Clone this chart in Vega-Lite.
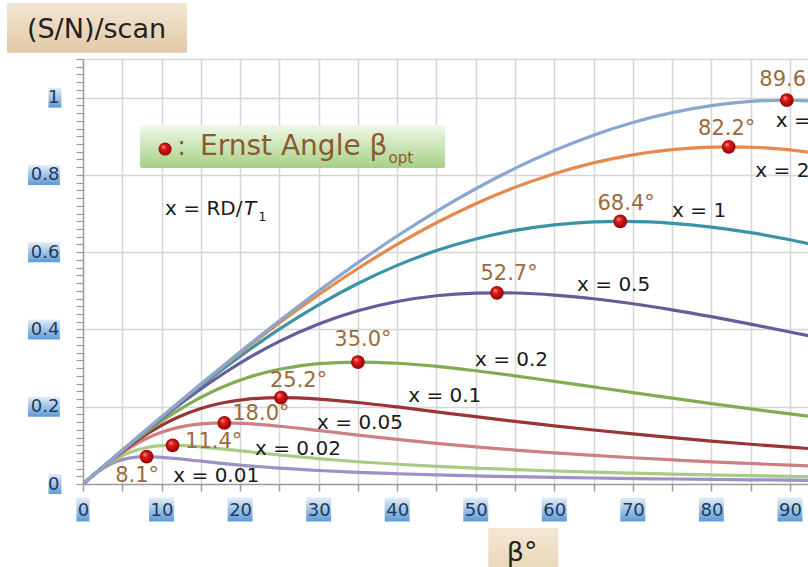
{
"$schema": "https://vega.github.io/schema/vega-lite/v6.json",
"width": 725, "height": 425,
"autosize": {"type": "none"},
"padding": {"left": 83, "top": 59, "right": 0, "bottom": 83},
"background": "white",
"config": {"view": {"stroke": null}},
"data": {"values": [{}]},
"datasets": {
"curves": [
{"x":"0.01","b":0,"s":0},{"x":"0.01","b":2,"s":0.0329},{"x":"0.01","b":4,"s":0.0562},{"x":"0.01","b":6,"s":0.0677},{"x":"0.01","b":8.1,"s":0.0707},{"x":"0.01","b":10,"s":0.0691},{"x":"0.01","b":12,"s":0.0655},{"x":"0.01","b":15,"s":0.0590},{"x":"0.01","b":18,"s":0.0527},{"x":"0.01","b":21,"s":0.0471},{"x":"0.01","b":25,"s":0.0409},{"x":"0.01","b":30,"s":0.0349},{"x":"0.01","b":35,"s":0.0302},{"x":"0.01","b":40,"s":0.0265},{"x":"0.01","b":45,"s":0.0235},{"x":"0.01","b":50,"s":0.0210},{"x":"0.01","b":55,"s":0.0189},{"x":"0.01","b":60,"s":0.0171},{"x":"0.01","b":65,"s":0.0155},{"x":"0.01","b":70,"s":0.0141},{"x":"0.01","b":75,"s":0.0129},{"x":"0.01","b":80,"s":0.0118},{"x":"0.01","b":85,"s":0.0109},{"x":"0.01","b":90,"s":0.0100},{"x":"0.01","b":95,"s":0.0091},
{"x":"0.02","b":0,"s":0},{"x":"0.02","b":2,"s":0.0339},{"x":"0.02","b":4,"s":0.0623},{"x":"0.02","b":6,"s":0.0822},{"x":"0.02","b":8,"s":0.0939},{"x":"0.02","b":10,"s":0.0991},{"x":"0.02","b":11.4,"s":0.1000},{"x":"0.02","b":13,"s":0.0995},{"x":"0.02","b":15,"s":0.0963},{"x":"0.02","b":18,"s":0.0903},{"x":"0.02","b":21,"s":0.0836},{"x":"0.02","b":25,"s":0.0750},{"x":"0.02","b":30,"s":0.0655},{"x":"0.02","b":35,"s":0.0576},{"x":"0.02","b":40,"s":0.0511},{"x":"0.02","b":45,"s":0.0456},{"x":"0.02","b":50,"s":0.0410},{"x":"0.02","b":55,"s":0.0371},{"x":"0.02","b":60,"s":0.0336},{"x":"0.02","b":65,"s":0.0306},{"x":"0.02","b":70,"s":0.0280},{"x":"0.02","b":75,"s":0.0256},{"x":"0.02","b":80,"s":0.0235},{"x":"0.02","b":85,"s":0.0216},{"x":"0.02","b":90,"s":0.0198},{"x":"0.02","b":95,"s":0.0182},
{"x":"0.05","b":0,"s":0},{"x":"0.05","b":2,"s":0.0345},{"x":"0.05","b":4,"s":0.0666},{"x":"0.05","b":6,"s":0.0944},{"x":"0.05","b":8,"s":0.1170},{"x":"0.05","b":10,"s":0.1340},{"x":"0.05","b":12,"s":0.1458},{"x":"0.05","b":15,"s":0.1555},{"x":"0.05","b":18,"s":0.1581},{"x":"0.05","b":21,"s":0.1561},{"x":"0.05","b":25,"s":0.1495},{"x":"0.05","b":30,"s":0.1384},{"x":"0.05","b":35,"s":0.1267},{"x":"0.05","b":40,"s":0.1156},{"x":"0.05","b":45,"s":0.1053},{"x":"0.05","b":50,"s":0.0962},{"x":"0.05","b":55,"s":0.0879},{"x":"0.05","b":60,"s":0.0806},{"x":"0.05","b":65,"s":0.0739},{"x":"0.05","b":70,"s":0.0679},{"x":"0.05","b":75,"s":0.0625},{"x":"0.05","b":80,"s":0.0575},{"x":"0.05","b":85,"s":0.0530},{"x":"0.05","b":90,"s":0.0488},{"x":"0.05","b":95,"s":0.0449},
{"x":"0.1","b":0,"s":0},{"x":"0.1","b":2,"s":0.0347},{"x":"0.1","b":4,"s":0.0682},{"x":"0.1","b":6,"s":0.0994},{"x":"0.1","b":8,"s":0.1274},{"x":"0.1","b":10,"s":0.1517},{"x":"0.1","b":12,"s":0.1722},{"x":"0.1","b":15,"s":0.1955},{"x":"0.1","b":18,"s":0.2109},{"x":"0.1","b":21,"s":0.2197},{"x":"0.1","b":25.2,"s":0.2236},{"x":"0.1","b":30,"s":0.2199},{"x":"0.1","b":35,"s":0.2109},{"x":"0.1","b":40,"s":0.1994},{"x":"0.1","b":45,"s":0.1868},{"x":"0.1","b":50,"s":0.1742},{"x":"0.1","b":55,"s":0.1621},{"x":"0.1","b":60,"s":0.1505},{"x":"0.1","b":65,"s":0.1397},{"x":"0.1","b":70,"s":0.1295},{"x":"0.1","b":75,"s":0.1200},{"x":"0.1","b":80,"s":0.1112},{"x":"0.1","b":85,"s":0.1029},{"x":"0.1","b":90,"s":0.0952},{"x":"0.1","b":95,"s":0.0879},
{"x":"0.2","b":0,"s":0},{"x":"0.2","b":2,"s":0.0348},{"x":"0.2","b":4,"s":0.0690},{"x":"0.2","b":6,"s":0.1020},{"x":"0.2","b":8,"s":0.1333},{"x":"0.2","b":10,"s":0.1625},{"x":"0.2","b":12,"s":0.1892},{"x":"0.2","b":15,"s":0.2243},{"x":"0.2","b":18,"s":0.2531},{"x":"0.2","b":21,"s":0.2757},{"x":"0.2","b":25,"s":0.2970},{"x":"0.2","b":30,"s":0.3115},{"x":"0.2","b":35,"s":0.3157},{"x":"0.2","b":40,"s":0.3125},{"x":"0.2","b":45,"s":0.3044},{"x":"0.2","b":50,"s":0.2931},{"x":"0.2","b":55,"s":0.2800},{"x":"0.2","b":60,"s":0.2658},{"x":"0.2","b":65,"s":0.2512},{"x":"0.2","b":70,"s":0.2366},{"x":"0.2","b":75,"s":0.2222},{"x":"0.2","b":80,"s":0.2081},{"x":"0.2","b":85,"s":0.1945},{"x":"0.2","b":90,"s":0.1813},{"x":"0.2","b":95,"s":0.1686},
{"x":"0.5","b":0,"s":0},{"x":"0.5","b":2,"s":0.0349},{"x":"0.5","b":4,"s":0.0695},{"x":"0.5","b":6,"s":0.1037},{"x":"0.5","b":8,"s":0.1371},{"x":"0.5","b":10,"s":0.1697},{"x":"0.5","b":12,"s":0.2011},{"x":"0.5","b":15,"s":0.2459},{"x":"0.5","b":18,"s":0.2873},{"x":"0.5","b":21,"s":0.3251},{"x":"0.5","b":25,"s":0.3693},{"x":"0.5","b":30,"s":0.4144},{"x":"0.5","b":35,"s":0.4485},{"x":"0.5","b":40,"s":0.4724},{"x":"0.5","b":45,"s":0.4872},{"x":"0.5","b":50,"s":0.4940},{"x":"0.5","b":52.7,"s":0.4949},{"x":"0.5","b":55,"s":0.4943},{"x":"0.5","b":60,"s":0.4891},{"x":"0.5","b":65,"s":0.4795},{"x":"0.5","b":70,"s":0.4665},{"x":"0.5","b":75,"s":0.4508},{"x":"0.5","b":80,"s":0.4331},{"x":"0.5","b":85,"s":0.4139},{"x":"0.5","b":90,"s":0.3935},{"x":"0.5","b":95,"s":0.3723},
{"x":"1","b":0,"s":0},{"x":"1","b":2,"s":0.0349},{"x":"1","b":4,"s":0.0697},{"x":"1","b":6,"s":0.1042},{"x":"1","b":8,"s":0.1384},{"x":"1","b":10,"s":0.1721},{"x":"1","b":12,"s":0.2053},{"x":"1","b":15,"s":0.2538},{"x":"1","b":18,"s":0.3005},{"x":"1","b":21,"s":0.3450},{"x":"1","b":25,"s":0.4008},{"x":"1","b":30,"s":0.4638},{"x":"1","b":35,"s":0.5190},{"x":"1","b":40,"s":0.5658},{"x":"1","b":45,"s":0.6041},{"x":"1","b":50,"s":0.6342},{"x":"1","b":55,"s":0.6563},{"x":"1","b":60,"s":0.6708},{"x":"1","b":65,"s":0.6784},{"x":"1","b":68.4,"s":0.6798},{"x":"1","b":72,"s":0.6782},{"x":"1","b":75,"s":0.6748},{"x":"1","b":80,"s":0.6650},{"x":"1","b":85,"s":0.6506},{"x":"1","b":90,"s":0.6321},{"x":"1","b":95,"s":0.6102},
{"x":"2","b":0,"s":0},{"x":"2","b":2,"s":0.0349},{"x":"2","b":4,"s":0.0697},{"x":"2","b":6,"s":0.1044},{"x":"2","b":8,"s":0.1390},{"x":"2","b":10,"s":0.1732},{"x":"2","b":12,"s":0.2072},{"x":"2","b":15,"s":0.2575},{"x":"2","b":18,"s":0.3067},{"x":"2","b":21,"s":0.3547},{"x":"2","b":25,"s":0.4165},{"x":"2","b":30,"s":0.4897},{"x":"2","b":35,"s":0.5578},{"x":"2","b":40,"s":0.6201},{"x":"2","b":45,"s":0.6761},{"x":"2","b":50,"s":0.7255},{"x":"2","b":55,"s":0.7679},{"x":"2","b":60,"s":0.8032},{"x":"2","b":65,"s":0.8312},{"x":"2","b":70,"s":0.8520},{"x":"2","b":75,"s":0.8655},{"x":"2","b":79,"s":0.8712},{"x":"2","b":82.2,"s":0.8727},{"x":"2","b":86,"s":0.8710},{"x":"2","b":90,"s":0.8647},{"x":"2","b":95,"s":0.8513},
{"x":"5","b":0,"s":0},{"x":"5","b":2,"s":0.0349},{"x":"5","b":4,"s":0.0698},{"x":"5","b":6,"s":0.1045},{"x":"5","b":8,"s":0.1392},{"x":"5","b":10,"s":0.1736},{"x":"5","b":12,"s":0.2079},{"x":"5","b":15,"s":0.2588},{"x":"5","b":18,"s":0.3089},{"x":"5","b":21,"s":0.3582},{"x":"5","b":25,"s":0.4224},{"x":"5","b":30,"s":0.4996},{"x":"5","b":35,"s":0.5729},{"x":"5","b":40,"s":0.6418},{"x":"5","b":45,"s":0.7057},{"x":"5","b":50,"s":0.7642},{"x":"5","b":55,"s":0.8168},{"x":"5","b":60,"s":0.8631},{"x":"5","b":65,"s":0.9028},{"x":"5","b":70,"s":0.9355},{"x":"5","b":75,"s":0.9611},{"x":"5","b":80,"s":0.9793},{"x":"5","b":85,"s":0.9901},{"x":"5","b":89.6,"s":0.9933},{"x":"5","b":95,"s":0.9889}
],
"ernst": [
{"x":"0.01","b":8.1,"s":0.0707},{"x":"0.02","b":11.4,"s":0.1000},{"x":"0.05","b":18.0,"s":0.1581},{"x":"0.1","b":25.2,"s":0.2236},{"x":"0.2","b":35.0,"s":0.3157},{"x":"0.5","b":52.7,"s":0.4949},{"x":"1","b":68.4,"s":0.6798},{"x":"2","b":82.2,"s":0.8727},{"x":"5","b":89.6,"s":0.9933}
],
"angles": [
{"t":"89.6°","b":86.1,"s":1.046},{"t":"82.2°","b":78.3,"s":0.919},{"t":"68.4°","b":65.5,"s":0.725},{"t":"52.7°","b":50.6,"s":0.544},{"t":"35.0°","b":32.0,"s":0.373},{"t":"25.2°","b":23.8,"s":0.267},{"t":"18.0°","b":19.0,"s":0.181},{"t":"11.4°","b":13.0,"s":0.109},{"t":"8.1°","b":4.1,"s":0.021}
],
"xlabels": [
{"t":"x = 5","b":88.2,"s":0.940},{"t":"x = 2","b":85.6,"s":0.810},{"t":"x = 1","b":75.0,"s":0.706},{"t":"x = 0.5","b":62.9,"s":0.515},{"t":"x = 0.2","b":49.9,"s":0.321},{"t":"x = 0.1","b":41.4,"s":0.228},{"t":"x = 0.05","b":29.8,"s":0.158},{"t":"x = 0.02","b":21.9,"s":0.091},{"t":"x = 0.01","b":11.5,"s":0.021}
],
"ylab": [{"v":0,"t":"0"},{"v":0.2,"t":"0.2"},{"v":0.4,"t":"0.4"},{"v":0.6,"t":"0.6"},{"v":0.8,"t":"0.8"},{"v":1,"t":"1"}],
"xlab": [{"v":0,"t":"0"},{"v":10,"t":"10"},{"v":20,"t":"20"},{"v":30,"t":"30"},{"v":40,"t":"40"},{"v":50,"t":"50"},{"v":60,"t":"60"},{"v":70,"t":"70"},{"v":80,"t":"80"},{"v":90,"t":"90"}]
},
"resolve": {"axis": {"x": "independent", "y": "independent"}},
"layer": [
{
"data": {"name": "curves"},
"mark": {"type": "line", "strokeWidth": 3.2, "interpolate": "monotone", "clip": true},
"encoding": {
"x": {"field": "b", "type": "quantitative", "scale": {"domain": [0, 92.3], "nice": false, "zero": false},
"axis": {"orient": "bottom", "values": [5,10,15,20,25,30,35,40,45,50,55,60,65,70,75,80,85,90], "grid": true, "gridColor": "#d6d6d6", "gridWidth": 1.5, "labels": false, "ticks": false, "domain": false, "title": null, "zindex": 0}},
"y": {"field": "s", "type": "quantitative", "scale": {"domain": [0, 1.1], "nice": false, "zero": false},
"axis": {"orient": "left", "values": [0.2,0.4,0.6,0.8,1,1.1], "grid": true, "gridColor": "#d6d6d6", "gridWidth": 1.5, "labels": false, "ticks": false, "domain": false, "title": null, "zindex": 0}},
"color": {"field": "x", "type": "nominal", "legend": null,
"scale": {"domain": ["0.01","0.02","0.05","0.1","0.2","0.5","1","2","5"], "range": ["#9c90c6","#a9cb85","#cc8083","#9b3535","#82ac52","#6a5a9c","#3c93a8","#e6894b","#8aa7d2"]}}
}
},
{
"data": {"name": "ylab"},
"transform": [{"filter": "length(datum.t) > 1"}],
"mark": {"type": "tick", "orient": "horizontal", "size": 32, "thickness": 20, "opacity": 1,
"color": {"gradient": "linear", "x1": 0, "y1": 0, "x2": 0, "y2": 1, "stops": [{"offset": 0, "color": "#e4edf8"}, {"offset": 1, "color": "#5e9ad6"}]}},
"encoding": {
"x": {"datum": -4.97, "type": "quantitative", "scale": {"domain": [0, 92.3], "nice": false, "zero": false}, "axis": null},
"y": {"field": "v", "type": "quantitative", "scale": {"domain": [0, 1.1], "nice": false, "zero": false}, "axis": null}
}
},
{
"data": {"name": "ylab"},
"transform": [{"filter": "length(datum.t) == 1"}],
"mark": {"type": "tick", "orient": "horizontal", "size": 13, "thickness": 20, "opacity": 1,
"color": {"gradient": "linear", "x1": 0, "y1": 0, "x2": 0, "y2": 1, "stops": [{"offset": 0, "color": "#e4edf8"}, {"offset": 1, "color": "#5e9ad6"}]}},
"encoding": {
"x": {"datum": -3.57, "type": "quantitative", "scale": {"domain": [0, 92.3], "nice": false, "zero": false}, "axis": null},
"y": {"field": "v", "type": "quantitative", "scale": {"domain": [0, 1.1], "nice": false, "zero": false}, "axis": null}
}
},
{
"data": {"name": "xlab"},
"transform": [{"filter": "length(datum.t) > 1"}],
"mark": {"type": "tick", "orient": "horizontal", "size": 25, "thickness": 24, "opacity": 1,
"color": {"gradient": "linear", "x1": 0, "y1": 0, "x2": 0, "y2": 1, "stops": [{"offset": 0, "color": "#e4edf8"}, {"offset": 1, "color": "#5e9ad6"}]}},
"encoding": {
"x": {"field": "v", "type": "quantitative", "scale": {"domain": [0, 92.3], "nice": false, "zero": false}, "axis": null},
"y": {"datum": -0.066, "type": "quantitative", "scale": {"domain": [0, 1.1], "nice": false, "zero": false}, "axis": null}
}
},
{
"data": {"name": "xlab"},
"transform": [{"filter": "length(datum.t) == 1"}],
"mark": {"type": "tick", "orient": "horizontal", "size": 13, "thickness": 24, "opacity": 1,
"color": {"gradient": "linear", "x1": 0, "y1": 0, "x2": 0, "y2": 1, "stops": [{"offset": 0, "color": "#e4edf8"}, {"offset": 1, "color": "#5e9ad6"}]}},
"encoding": {
"x": {"field": "v", "type": "quantitative", "scale": {"domain": [0, 92.3], "nice": false, "zero": false}, "axis": null},
"y": {"datum": -0.066, "type": "quantitative", "scale": {"domain": [0, 1.1], "nice": false, "zero": false}, "axis": null}
}
},
{
"mark": {"type": "rect", "cornerRadius": 2,
"fill": {"gradient": "linear", "x1": 0, "y1": 0, "x2": 0, "y2": 1, "stops": [{"offset": 0, "color": "#f0f8e9"}, {"offset": 1, "color": "#a6d085"}]}},
"encoding": {
"x": {"datum": 7.26, "type": "quantitative", "scale": {"domain": [0, 92.3], "nice": false, "zero": false}, "axis": null},
"x2": {"datum": 46.1},
"y": {"datum": 0.929, "type": "quantitative", "scale": {"domain": [0, 1.1], "nice": false, "zero": false}, "axis": null},
"y2": {"datum": 0.818}
}
},
{
"mark": {"type": "rect",
"fill": {"gradient": "linear", "x1": 0, "y1": 0, "x2": 0, "y2": 1, "stops": [{"offset": 0, "color": "#f3e6d2"}, {"offset": 1, "color": "#e2c9a6"}]}},
"encoding": {
"x": {"datum": -9.68, "type": "quantitative", "scale": {"domain": [0, 92.3], "nice": false, "zero": false}, "axis": null},
"x2": {"datum": 13.25},
"y": {"datum": 1.245, "type": "quantitative", "scale": {"domain": [0, 1.1], "nice": false, "zero": false}, "axis": null},
"y2": {"datum": 1.116}
}
},
{
"mark": {"type": "rect",
"fill": {"gradient": "linear", "x1": 0, "y1": 0, "x2": 0, "y2": 1, "stops": [{"offset": 0, "color": "#f3e6d2"}, {"offset": 1, "color": "#e8d3b3"}]}},
"encoding": {
"x": {"datum": 51.6, "type": "quantitative", "scale": {"domain": [0, 92.3], "nice": false, "zero": false}, "axis": null},
"x2": {"datum": 60.5},
"y": {"datum": -0.114, "type": "quantitative", "scale": {"domain": [0, 1.1], "nice": false, "zero": false}, "axis": null},
"y2": {"datum": -0.25}
}
},
{
"data": {"name": "ernst"},
"mark": {"type": "point", "shape": "circle", "filled": true, "size": 190, "opacity": 1,
"fill": {"gradient": "radial", "x1": 0.35, "y1": 0.3, "r1": 0, "x2": 0.5, "y2": 0.5, "r2": 0.55, "stops": [{"offset": 0, "color": "#ff9c9c"}, {"offset": 0.35, "color": "#df1a1a"}, {"offset": 1, "color": "#880000"}]}},
"encoding": {
"x": {"field": "b", "type": "quantitative", "scale": {"domain": [0, 92.3], "nice": false, "zero": false},
"axis": {"orient": "bottom", "values": [0,5,10,15,20,25,30,35,40,45,50,55,60,65,70,75,80,85,90],
"labelExpr": "datum.value % 10 === 0 ? datum.label : ''", "grid": false, "domainColor": "#9a9a9a", "domainWidth": 1.5,
"tickColor": "#9a9a9a", "tickWidth": 1.5, "tickSize": 7, "labelFont": "DejaVu Sans", "labelFontSize": 18, "labelColor": "#1f3a5f",
"labelPadding": 10, "labelOverlap": false, "labelFlush": false, "title": null, "zindex": 1}},
"y": {"field": "s", "type": "quantitative", "scale": {"domain": [0, 1.1], "nice": false, "zero": false},
"axis": {"orient": "left", "values": [0,0.02,0.04,0.06,0.08,0.1,0.12,0.14,0.16,0.18,0.2,0.22,0.24,0.26,0.28,0.3,0.32,0.34,0.36,0.38,0.4,0.42,0.44,0.46,0.48,0.5,0.52,0.54,0.56,0.58,0.6,0.62,0.64,0.66,0.68,0.7,0.72,0.74,0.76,0.78,0.8,0.82,0.84,0.86,0.88,0.9,0.92,0.94,0.96,0.98,1,1.02,1.04,1.06,1.08,1.1],
"labelExpr": "abs(datum.value*5 - round(datum.value*5)) < 0.0001 ? format(datum.value, '~g') : ''",
"grid": false, "domainColor": "#9a9a9a", "domainWidth": 1.5, "tickColor": "#9a9a9a", "tickWidth": 1.2, "tickSize": 7,
"labelFont": "DejaVu Sans", "labelFontSize": 18, "labelColor": "#1f3a5f", "labelPadding": 17, "labelOverlap": false, "labelFlush": false,
"title": null, "zindex": 1}}
}
},
{
"mark": {"type": "point", "shape": "circle", "filled": true, "size": 170, "opacity": 1,
"fill": {"gradient": "radial", "x1": 0.35, "y1": 0.3, "r1": 0, "x2": 0.5, "y2": 0.5, "r2": 0.55, "stops": [{"offset": 0, "color": "#ff9c9c"}, {"offset": 0.35, "color": "#df1a1a"}, {"offset": 1, "color": "#880000"}]}},
"encoding": {
"x": {"datum": 10.45, "type": "quantitative", "scale": {"domain": [0, 92.3], "nice": false, "zero": false}, "axis": null},
"y": {"datum": 0.867, "type": "quantitative", "scale": {"domain": [0, 1.1], "nice": false, "zero": false}, "axis": null}
}
},
{
"data": {"name": "angles"},
"mark": {"type": "text", "align": "left", "baseline": "middle", "font": "DejaVu Sans", "fontSize": 21, "color": "#9b6a3c"},
"encoding": {
"x": {"field": "b", "type": "quantitative", "scale": {"domain": [0, 92.3], "nice": false, "zero": false}, "axis": null},
"y": {"field": "s", "type": "quantitative", "scale": {"domain": [0, 1.1], "nice": false, "zero": false}, "axis": null},
"text": {"field": "t"}
}
},
{
"data": {"name": "xlabels"},
"mark": {"type": "text", "align": "left", "baseline": "middle", "font": "DejaVu Sans", "fontSize": 20, "color": "#1a1a1a"},
"encoding": {
"x": {"field": "b", "type": "quantitative", "scale": {"domain": [0, 92.3], "nice": false, "zero": false}, "axis": null},
"y": {"field": "s", "type": "quantitative", "scale": {"domain": [0, 1.1], "nice": false, "zero": false}, "axis": null},
"text": {"field": "t"}
}
},
{
"mark": {"type": "text", "align": "left", "baseline": "middle", "font": "DejaVu Sans", "fontSize": 20, "color": "#1a1a1a", "text": "x = RD/"},
"encoding": {
"x": {"datum": 10.45, "type": "quantitative", "scale": {"domain": [0, 92.3], "nice": false, "zero": false}, "axis": null},
"y": {"datum": 0.711, "type": "quantitative", "scale": {"domain": [0, 1.1], "nice": false, "zero": false}, "axis": null}
}
},
{
"mark": {"type": "text", "align": "left", "baseline": "middle", "font": "DejaVu Sans", "fontSize": 20, "fontStyle": "italic", "color": "#1a1a1a", "text": "T"},
"encoding": {
"x": {"datum": 20.5, "type": "quantitative", "scale": {"domain": [0, 92.3], "nice": false, "zero": false}, "axis": null},
"y": {"datum": 0.711, "type": "quantitative", "scale": {"domain": [0, 1.1], "nice": false, "zero": false}, "axis": null}
}
},
{
"mark": {"type": "text", "align": "left", "baseline": "middle", "font": "DejaVu Sans", "fontSize": 13, "color": "#1a1a1a", "text": "1"},
"encoding": {
"x": {"datum": 22.3, "type": "quantitative", "scale": {"domain": [0, 92.3], "nice": false, "zero": false}, "axis": null},
"y": {"datum": 0.692, "type": "quantitative", "scale": {"domain": [0, 1.1], "nice": false, "zero": false}, "axis": null}
}
},
{
"mark": {"type": "text", "align": "left", "baseline": "middle", "font": "DejaVu Sans", "fontSize": 26, "color": "#8c5a30", "text": ":"},
"encoding": {
"x": {"datum": 12.0, "type": "quantitative", "scale": {"domain": [0, 92.3], "nice": false, "zero": false}, "axis": null},
"y": {"datum": 0.872, "type": "quantitative", "scale": {"domain": [0, 1.1], "nice": false, "zero": false}, "axis": null}
}
},
{
"mark": {"type": "text", "align": "left", "baseline": "middle", "font": "DejaVu Sans", "fontSize": 28, "color": "#8c5a30", "text": "Ernst Angle β"},
"encoding": {
"x": {"datum": 14.9, "type": "quantitative", "scale": {"domain": [0, 92.3], "nice": false, "zero": false}, "axis": null},
"y": {"datum": 0.872, "type": "quantitative", "scale": {"domain": [0, 1.1], "nice": false, "zero": false}, "axis": null}
}
},
{
"mark": {"type": "text", "align": "left", "baseline": "middle", "font": "DejaVu Sans", "fontSize": 15, "color": "#8c5a30", "text": "opt"},
"encoding": {
"x": {"datum": 38.9, "type": "quantitative", "scale": {"domain": [0, 92.3], "nice": false, "zero": false}, "axis": null},
"y": {"datum": 0.843, "type": "quantitative", "scale": {"domain": [0, 1.1], "nice": false, "zero": false}, "axis": null}
}
},
{
"mark": {"type": "text", "align": "center", "baseline": "middle", "font": "DejaVu Sans", "fontSize": 27, "color": "#222222", "text": "(S/N)/scan"},
"encoding": {
"x": {"datum": 1.72, "type": "quantitative", "scale": {"domain": [0, 92.3], "nice": false, "zero": false}, "axis": null},
"y": {"datum": 1.175, "type": "quantitative", "scale": {"domain": [0, 1.1], "nice": false, "zero": false}, "axis": null}
}
},
{
"mark": {"type": "text", "align": "center", "baseline": "middle", "font": "DejaVu Sans", "fontSize": 27, "color": "#222222", "text": "β°"},
"encoding": {
"x": {"datum": 55.9, "type": "quantitative", "scale": {"domain": [0, 92.3], "nice": false, "zero": false}, "axis": null},
"y": {"datum": -0.178, "type": "quantitative", "scale": {"domain": [0, 1.1], "nice": false, "zero": false}, "axis": null}
}
}
]
}
